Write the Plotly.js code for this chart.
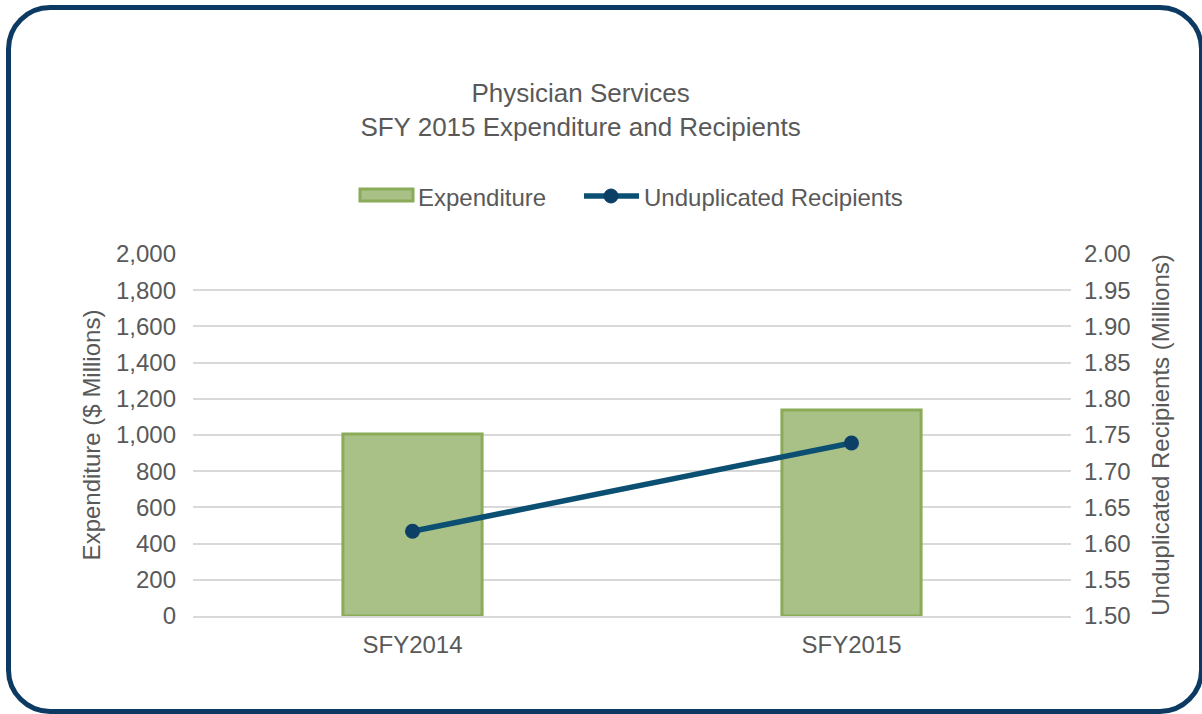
<!DOCTYPE html>
<html><head><meta charset="utf-8">
<script src="https://cdn.plot.ly/plotly-3.0.1.min.js"></script>
<style>
html,body{margin:0;padding:0;background:#fff;}
#frame{position:absolute;left:6px;top:5px;width:1188px;height:699px;border:5px solid #0d3a63;border-radius:44px;box-sizing:content-box;pointer-events:none;z-index:2;}
#chart{position:absolute;left:0;top:0;width:1202px;height:714px;}
</style></head>
<body>
<div id="chart"></div>
<div id="frame"></div>
<script>
const categories = ["SFY2014", "SFY2015"];
const expenditure = [1005, 1138];
const recipients = [1.617, 1.739];
const leftTicks = [0,200,400,600,800,1000,1200,1400,1600,1800,2000];
const rightTicks = [1.50,1.55,1.60,1.65,1.70,1.75,1.80,1.85,1.90,1.95,2.00];
const seriesNames = ["Expenditure", "Unduplicated Recipients"];

const barFill = "#a9c087", barLine = "#8aab58", lineColor = "#0b4f72", markerColor = "#0b3f66";
const font = {family:"Liberation Sans, Arial, sans-serif", color:"#595959"};
const M = {l:193, r:131, t:254, b:98};
const W = 1202, H = 714;
const pw = W - M.l - M.r, ph = H - M.t - M.b;
const px = v => (v - M.l) / pw;
const py = v => (H - M.b - v) / ph;

const traces = [
  {type:"bar", name:seriesNames[0], x:categories, y:expenditure, width:0.317,
   marker:{color:barFill, line:{color:barLine, width:3}}, yaxis:"y"},
  {type:"scatter", mode:"lines+markers", name:seriesNames[1], x:categories, y:recipients,
   line:{color:lineColor, width:5.5}, marker:{color:markerColor, size:15}, yaxis:"y2"}
];

// manual legend (matches reference's wide symbols)
const shapes = [
  {type:"rect", xref:"paper", yref:"paper", x0:px(360), x1:px(413), y0:py(201), y1:py(189),
   fillcolor:barFill, line:{color:barLine, width:3}},
  {type:"line", xref:"paper", yref:"paper", x0:px(584), x1:px(639), y0:py(196), y1:py(196),
   line:{color:lineColor, width:5.5}},
  {type:"circle", xref:"paper", yref:"paper", x0:px(604), x1:px(618), y0:py(203), y1:py(189),
   fillcolor:markerColor, line:{color:markerColor, width:1}}
];
const annotations = [
  {text:seriesNames[0], xref:"paper", yref:"paper", x:px(416), y:py(197), xanchor:"left", yanchor:"middle",
   showarrow:false, font:Object.assign({size:24}, font)},
  {text:seriesNames[1], xref:"paper", yref:"paper", x:px(642), y:py(197), xanchor:"left", yanchor:"middle",
   showarrow:false, font:Object.assign({size:24}, font)}
];

const layout = {
  width:W, height:H,
  paper_bgcolor:"rgba(0,0,0,0)", plot_bgcolor:"rgba(0,0,0,0)",
  margin:M,
  font:Object.assign({size:24}, font),
  title:{text:"Physician Services<br>SFY 2015 Expenditure and Recipients", font:Object.assign({size:26}, font),
    x:0.483, xref:"container", xanchor:"center", y:0.857, yref:"container", yanchor:"middle"},
  showlegend:false,
  shapes:shapes, annotations:annotations,
  xaxis:{type:"category", range:[-0.5,1.5], showgrid:false, zeroline:false, showline:true, linecolor:"#d9d9d9", linewidth:2,
    tickfont:Object.assign({size:24}, font), ticks:"", ticklen:0, ticklabelstandoff:6},
  yaxis:{range:[0,2000], tickvals:leftTicks, ticktext:leftTicks.map(v=>v.toLocaleString("en-US")),
    showgrid:true, gridcolor:"#d9d9d9", gridwidth:2, zeroline:false, ticks:"", ticklabelstandoff:16,
    tickfont:Object.assign({size:24}, font),
    title:{text:"Expenditure ($ Millions)", font:Object.assign({size:24}, font), standoff:8}},
  yaxis2:{range:[1.5,2.0], overlaying:"y", side:"right", tickvals:rightTicks, ticktext:rightTicks.map(v=>v.toFixed(2)),
    showgrid:false, zeroline:false, ticks:"", ticklabelstandoff:12, tickfont:Object.assign({size:24}, font),
    title:{text:"Unduplicated Recipients (Millions)", font:Object.assign({size:24}, font), standoff:22}}
};
Plotly.newPlot("chart", traces, layout, {displayModeBar:false, staticPlot:true});
</script>
</body></html>
